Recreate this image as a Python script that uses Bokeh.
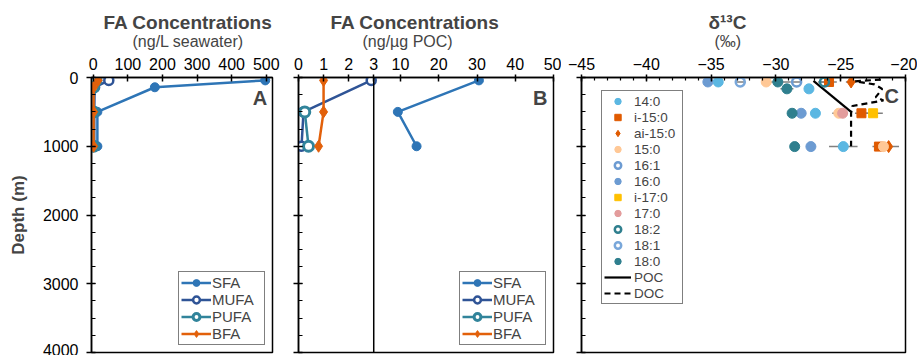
from bokeh.plotting import figure
from bokeh.layouts import row
from bokeh.models import (Range1d, SingleIntervalTicker, FixedTicker, Title, Legend,
                          LegendItem, Label, Span, CustomJSTickFormatter)
from bokeh.embed import file_html
from bokeh.resources import INLINE

FONT = "Liberation Sans"

# ---------------- data ----------------
# Panel A : FA concentrations (ng/L seawater)
depth_A = [42, 142, 500, 1000]
sfa_A = [497, 178, 12, 12]
mufa_A = [45, 4, 3, 3]
pufa_A = [8, 1, 1, 1]
bfa_A = [14, 1, 1, 1]

# Panel B : FA concentrations (ng/ug POC), broken axis at 3
depth_B = [42, 500, 1000]
sfa_B = [30.5, 9.3, 14.2]
mufa_B = [2.9, 0.2, 0.12]
depth_B_pufa = [500, 1000]
pufa_B = [0.25, 0.4]
bfa_B = [1.0, 1.0, 0.8]
B_BREAK = 3
ticks_B_lo = [0, 1, 2, 3]
ticks_B_hi = [10, 20, 30, 40, 50]

# Panel C : d13C (permil)
c14_0_d = [65, 165, 520, 1005]
c14_0_x = [-34.45, -27.45, -26.95, -24.8]
c14_0_e = [0.3, 0.0, 0.3, 1.1]
ci15_0_d = [65, 520, 1005]
ci15_0_x = [-25.9, -23.4, -22.05]
ci15_0_e = [0.6, 0.5, 0.5]
cai15_0_d = [65, 1005]
cai15_0_x = [-24.2, -21.3]
cai15_0_e = [0.4, 0.8]
c15_0_d = [65, 520, 1005]
c15_0_x = [-30.75, -25.15, -21.7]
c15_0_e = [0.3, 0.5, 0.4]
c16_1_d = [65]
c16_1_x = [-28.4]
c16_1_e = [0.4]
c16_0_d = [65, 520, 1005]
c16_0_x = [-35.25, -28.05, -27.3]
c16_0_e = [0.2, 0.3, 0.2]
ci17_0_d = [520]
ci17_0_x = [-22.5]
ci17_0_e = [0.75]
c17_0_d = [520]
c17_0_x = [-24.85]
c17_0_e = [0.4]
c18_2_d = [65]
c18_2_x = [-26.25]
c18_2_e = [0.5]
c18_1_d = [65]
c18_1_x = [-32.75]
c18_1_e = [0.4]
c18_0_d = [65, 165, 520, 1005]
c18_0_x = [-29.85, -29.15, -28.75, -28.55]
c18_0_e = [1.0, 0.5, 0.2, 0.2]

poc_d = [50, 500]
poc_x = [-27.1, -24.2]
doc_d = [30, 55, 100, 165, 215, 285, 335, 415, 520, 1000]
doc_x = [-21.9, -23.9, -22.4, -21.8, -22.0, -22.3, -21.7, -24.1, -24.2, -24.2]

# ---------------- styling helpers ----------------
C_SFA, C_MUFA, C_PUFA, C_BFA = "#2E75B6", "#2F5496", "#31849B", "#E2600A"
FRAME_TOP = 77
FIG_H = 355


def make_fig(width, x_range, bl, br):
    p = figure(width=width, height=FIG_H, x_range=x_range, y_range=Range1d(4000, 0),
               x_axis_location="above", output_backend="svg", toolbar_location=None,
               min_border_left=bl, min_border_right=br, min_border_top=FRAME_TOP,
               min_border_bottom=3)
    p.grid.visible = False
    p.outline_line_color = "black"
    p.outline_line_width = 1.5
    p.outline_line_alpha = 1.0
    for ax in [p.xaxis[0], p.yaxis[0]]:
        ax.axis_line_color = "black"
        ax.axis_line_width = 1.5
        ax.major_tick_line_color = "black"
        ax.major_tick_line_width = 1.5
        ax.minor_tick_line_color = "black"
        ax.minor_tick_line_width = 1.2
        ax.major_label_text_font = FONT
        ax.major_label_text_font_size = "16px"
        ax.major_label_text_color = "black"
    y = p.yaxis[0]
    y.ticker = SingleIntervalTicker(interval=1000, num_minor_ticks=4)
    y.major_tick_in = 4
    y.major_tick_out = 5
    y.minor_tick_in = 4
    y.minor_tick_out = 0
    y.major_label_standoff = 8
    x = p.xaxis[0]
    x.major_tick_in = 4
    x.major_tick_out = 3
    x.minor_tick_in = 3
    x.minor_tick_out = 0
    x.major_label_standoff = 5
    return p


def add_titles(p, main, sub, offset_main, offset_sub):
    p.add_layout(Title(text=sub, align="left", text_font=FONT, text_font_size="16px",
                       text_font_style="normal", standoff=9, offset=offset_sub), "above")
    p.add_layout(Title(text=main, align="left", text_font=FONT, text_font_size="19px",
                       text_font_style="bold", standoff=-12, offset=offset_main), "above")


def style_legend(leg, fs, gw, gh, sp, pad):
    leg.label_text_font = FONT
    leg.label_text_font_size = fs
    leg.glyph_width = gw
    leg.glyph_height = gh
    leg.label_height = gh
    leg.label_standoff = 2
    leg.spacing = sp
    leg.padding = pad
    leg.border_line_color = "black"
    leg.border_line_width = 1.2
    leg.background_fill_alpha = 1.0


def profile(p, xs, ds, color, marker, size, fill, lw_marker, range_name="default"):
    kw = {} if range_name == "default" else {"x_range_name": range_name}
    l = p.line(xs, ds, line_color=color, line_width=2.5, **kw)
    s = p.scatter(xs, ds, marker=marker, size=size, line_color=color, fill_color=fill,
                  line_width=lw_marker, **kw)
    return [l, s]

# ---------------- panel A ----------------
pA = make_fig(280, Range1d(-5, 518), 91, 8)
pA.xaxis[0].ticker = SingleIntervalTicker(interval=100, num_minor_ticks=0)
pA.yaxis[0].axis_label = "Depth (m)"
pA.yaxis[0].axis_label_text_font = FONT
pA.yaxis[0].axis_label_text_font_size = "17px"
pA.yaxis[0].axis_label_text_font_style = "bold"
pA.yaxis[0].axis_label_standoff = 12
add_titles(pA, "FA Concentrations", "(ng/L seawater)", 12, 41)

rA = {
    "SFA": profile(pA, sfa_A, depth_A, C_SFA, "circle", 9, C_SFA, 1),
    "MUFA": profile(pA, mufa_A, depth_A, C_MUFA, "circle", 9, "white", 2.5),
    "PUFA": profile(pA, pufa_A, depth_A, C_PUFA, "circle", 10, "white", 3),
    "BFA": profile(pA, bfa_A, depth_A, C_BFA, "diamond", 12, C_BFA, 1),
}
legA = Legend(items=[LegendItem(label=k, renderers=v) for k, v in rA.items()],
              location="bottom_right", margin=7)
style_legend(legA, "15px", 30, 17, 0, 2)
legA.label_standoff = 1
legA.label_width = 50
pA.add_layout(legA)
pA.add_layout(Label(x=503, y=300, text="A", text_align="right", text_baseline="middle",
                    text_font=FONT, text_font_size="20px", text_font_style="bold"))

# ---------------- panel B (broken axis) ----------------
B_HI_MIN, B_HI_MAX = -16.67, 50
B_LO_MAX = B_BREAK * (B_HI_MAX - B_HI_MIN) / (B_BREAK - B_HI_MIN)
pB = make_fig(281, Range1d(0, B_LO_MAX), 18, 8)
pB.extra_x_ranges = {"hi": Range1d(B_HI_MIN, B_HI_MAX)}


def to_lo(v):
    return (v - B_HI_MIN) * B_LO_MAX / (B_HI_MAX - B_HI_MIN)


pB.xaxis[0].ticker = FixedTicker(ticks=ticks_B_lo + [to_lo(v) for v in ticks_B_hi], minor_ticks=[])
pB.xaxis[0].formatter = CustomJSTickFormatter(
    args=dict(brk=B_BREAK, lo_max=B_LO_MAX, hi_min=B_HI_MIN, hi_max=B_HI_MAX),
    code="""
    if (tick <= brk + 1e-6) { return Math.round(tick).toString(); }
    const v = hi_min + tick * (hi_max - hi_min) / lo_max;
    return Math.round(v).toString();
    """)
pB.yaxis[0].formatter = CustomJSTickFormatter(code="return '';")
add_titles(pB, "FA Concentrations", "(ng/\u00b5g POC)", 32, 64)
pB.add_layout(Span(location=B_BREAK, dimension="height", line_color="black", line_width=1.5))

rB = {
    "SFA": profile(pB, sfa_B, depth_B, C_SFA, "circle", 9, C_SFA, 1, "hi"),
    "MUFA": profile(pB, mufa_B, depth_B, C_MUFA, "circle", 9, "white", 2.5),
    "PUFA": profile(pB, pufa_B, depth_B_pufa, C_PUFA, "circle", 10, "white", 3),
    "BFA": profile(pB, bfa_B, depth_B, C_BFA, "diamond", 12, C_BFA, 1),
}
legB = Legend(items=[LegendItem(label=k, renderers=v) for k, v in rB.items()],
              location="bottom_right", margin=7)
style_legend(legB, "15px", 30, 17, 0, 2)
legB.label_standoff = 1
legB.label_width = 50
pB.add_layout(legB)
pB.add_layout(Label(x=48.4, y=300, x_range_name="hi", text="B", text_align="right",
                    text_baseline="middle", text_font=FONT, text_font_size="20px",
                    text_font_style="bold"))

# ---------------- panel C ----------------
pC = make_fig(356, Range1d(-45, -20), 20, 12)
pC.xaxis[0].ticker = SingleIntervalTicker(interval=5, num_minor_ticks=5)
pC.yaxis[0].formatter = CustomJSTickFormatter(code="return '';")
add_titles(pC, "\u03b4\u00b9\u00b3C", "(\u2030)", 127, 133)

c_series = [
    ("14:0", c14_0_x, c14_0_d, c14_0_e, "circle", 10, "#5BB7E2", "#5BB7E2", 1),
    ("i-15:0", ci15_0_x, ci15_0_d, ci15_0_e, "square", 9, "#E05A00", "#E05A00", 1),
    ("ai-15:0", cai15_0_x, cai15_0_d, cai15_0_e, "diamond", 12, "#E05A00", "#E05A00", 1),
    ("15:0", c15_0_x, c15_0_d, c15_0_e, "circle", 10, "#FFC896", "#FFC896", 1),
    ("16:1", c16_1_x, c16_1_d, c16_1_e, "circle", 9, "#6C9BD2", None, 2.5),
    ("16:0", c16_0_x, c16_0_d, c16_0_e, "circle", 10, "#6C9BD2", "#6C9BD2", 1),
    ("i-17:0", ci17_0_x, ci17_0_d, ci17_0_e, "square", 9, "#FFC000", "#FFC000", 1),
    ("17:0", c17_0_x, c17_0_d, c17_0_e, "circle", 10, "#E39C9C", "#E39C9C", 1),
    ("18:2", c18_2_x, c18_2_d, c18_2_e, "circle", 9, "#2F7F8E", None, 2.5),
    ("18:1", c18_1_x, c18_1_d, c18_1_e, "circle", 9, "#79A7DA", None, 2.5),
    ("18:0", c18_0_x, c18_0_d, c18_0_e, "circle", 10, "#2F7F8E", "#2F7F8E", 1),
]

# error bars
for name, xs, ds, es, *_ in c_series:
    pC.segment(x0=[x - e for x, e in zip(xs, es)], x1=[x + e for x, e in zip(xs, es)],
               y0=ds, y1=ds, line_color="#808080", line_width=1.5)

poc_r = pC.line(poc_x, poc_d, line_color="black", line_width=2.2)
doc_r = pC.line(doc_x, doc_d, line_color="black", line_width=2.2, line_dash="6 4")

items_C = []
for name, xs, ds, es, marker, size, lc, fc, lw in c_series:
    r = pC.scatter(xs, ds, marker=marker, size=size, line_color=lc, fill_color=fc, line_width=lw)
    items_C.append(LegendItem(label=name, renderers=[r]))
items_C.append(LegendItem(label="POC", renderers=[poc_r]))
items_C.append(LegendItem(label="DOC", renderers=[doc_r]))
legC = Legend(items=items_C, location=(20, 48))
style_legend(legC, "13.5px", 27, 16, 0, 2)
legC.label_standoff = 3
legC.label_width = 46
pC.add_layout(legC)
pC.add_layout(Label(x=-20.5, y=276, text="C", text_align="right", text_baseline="middle",
                    text_font=FONT, text_font_size="20px", text_font_style="bold"))

layout = row(pA, pB, pC, spacing=0)
open("out.html", "w").write(file_html(layout, INLINE))
